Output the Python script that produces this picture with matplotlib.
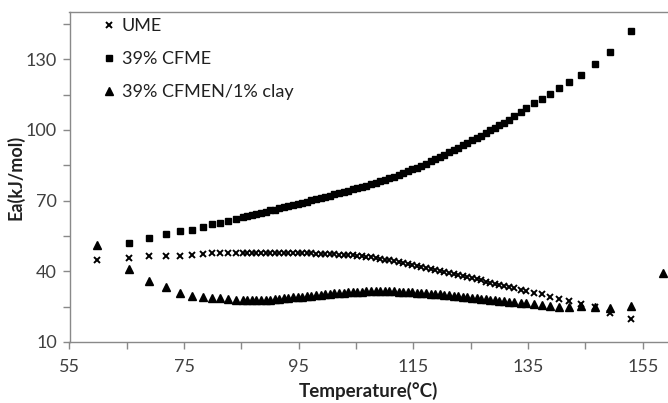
import matplotlib
matplotlib.use("Agg")
import matplotlib.pyplot as plt
import numpy as np

# Temperature (°C) — shared x values for all series
temperature = [
    59.8, 65.3, 68.9, 71.8, 74.3, 76.4, 78.2, 79.8, 81.3, 82.7, 84.0, 85.2,
    86.0, 86.8, 87.6, 88.4, 89.2, 90.0, 90.8, 91.6, 92.4, 93.2,
    94.0, 94.8, 95.6, 96.4, 97.2, 98.0, 98.8, 99.6, 100.4, 101.2,
    102.0, 102.8, 103.6, 104.4, 105.2, 106.0, 106.8, 107.6, 108.4, 109.2,
    110.0, 110.8, 111.6, 112.4, 113.2, 114.0, 114.8, 115.6, 116.4, 117.2,
    118.0, 118.8, 119.6, 120.4, 121.2, 122.0, 122.8, 123.6, 124.4, 125.2,
    126.0, 126.8, 127.6, 128.4, 129.2, 130.0, 130.8, 131.6,
    132.5, 133.7, 134.7, 136.0, 137.4, 138.8, 140.4, 142.2, 144.2, 146.6,
    149.3, 153.0, 158.6,
]

# Ea (kJ/mol), UME
ea_ume = [
    44.8, 45.8, 46.3, 46.5, 46.5, 46.8, 47.3, 47.6, 47.6, 47.6, 47.7, 47.7,
    47.7, 47.7, 47.8, 47.8, 47.8, 47.8, 47.8, 47.8, 47.8, 47.8,
    47.7, 47.7, 47.7, 47.6, 47.6, 47.5, 47.4, 47.4, 47.3, 47.2,
    47.1, 47.0, 46.9, 46.7, 46.6, 46.4, 46.2, 46.0, 45.7, 45.4,
    45.0, 44.6, 44.2, 43.8, 43.4, 43.0, 42.6, 42.2, 41.8, 41.4,
    41.0, 40.6, 40.2, 39.8, 39.4, 38.9, 38.5, 38.0, 37.6, 37.1,
    36.6, 36.1, 35.6, 35.1, 34.6, 34.1, 33.7, 33.3,
    32.8, 32.2, 31.6, 30.9, 30.2, 29.3, 28.4, 27.5, 26.0, 24.8,
    22.4, 19.6, np.nan,
]

# Ea (kJ/mol), 39% CFME
ea_cfme = [
    np.nan, 51.9, 54.0, 55.8, 57.2, 57.7, 58.8, 59.9, 60.6, 61.4, 62.2, 63.0,
    63.5, 64.0, 64.4, 64.9, 65.3, 65.8, 66.2, 66.7, 67.2, 67.6,
    68.1, 68.6, 69.1, 69.6, 70.1, 70.6, 71.1, 71.6, 72.1, 72.6,
    73.1, 73.6, 74.1, 74.7, 75.2, 75.7, 76.3, 76.9, 77.5, 78.1,
    78.8, 79.5, 80.2, 80.9, 81.7, 82.4, 83.2, 84.0, 84.8, 85.7,
    86.6, 87.5, 88.5, 89.4, 90.4, 91.4, 92.4, 93.4, 94.4, 95.5,
    96.6, 97.6, 98.7, 99.8, 100.9, 102.0, 103.1, 104.3,
    105.7, 107.5, 109.2, 111.2, 113.2, 115.1, 117.6, 120.4, 123.4, 127.8,
    133.1, 141.9, np.nan,
]

# Ea (kJ/mol), 39% CFMEN/1% clay
ea_cfmen_clay = [
    51.1, 40.8, 35.9, 33.3, 30.9, 29.6, 29.2, 28.5, 28.5, 28.2, 28.0, 27.9,
    27.8, 27.8, 27.8, 27.8, 27.9, 28.0, 28.1, 28.3, 28.5, 28.7,
    28.9, 29.1, 29.3, 29.5, 29.7, 29.9, 30.1, 30.3, 30.5, 30.7,
    30.8, 31.0, 31.1, 31.2, 31.3, 31.4, 31.5, 31.5, 31.6, 31.6,
    31.6, 31.6, 31.5, 31.4, 31.3, 31.2, 31.1, 30.9, 30.8, 30.6,
    30.5, 30.3, 30.2, 30.0, 29.8, 29.6, 29.4, 29.2, 29.0, 28.8,
    28.6, 28.4, 28.2, 28.0, 27.7, 27.5, 27.3, 27.1,
    26.9, 26.6, 26.4, 26.0, 25.7, 25.3, 25.0, 25.0, 25.3, 25.0,
    24.5, 25.3, 39.4,
]

series_labels = ["UME", "39% CFME", "39% CFMEN/1% clay"]
x_major_ticks = [55, 75, 95, 115, 135, 155]
x_minor_ticks = [65, 85, 105, 125, 145]
y_major_ticks = [10, 40, 70, 100, 130]
y_minor_ticks = [25, 55, 85, 115, 145]

plt.rcParams["font.family"] = ["Lato", "DejaVu Sans"]

W, H = 668, 403
fig = plt.figure(figsize=(W / 100, H / 100), dpi=100)
left_px, bottom_px, top_px = 69.5, 342, 12
ax = fig.add_axes([left_px / W, 1 - bottom_px / H, 1 - left_px / W, (bottom_px - top_px) / H])

ax.plot(temperature, ea_ume, ls="none", marker="x", ms=4.4, mew=1.4,
        color="black", label=series_labels[0])
ax.plot(temperature, ea_cfme, ls="none", marker="s", ms=4.0,
        color="black", label=series_labels[1])
ax.plot(temperature, ea_cfmen_clay, ls="none", marker="^", ms=6.4,
        color="black", label=series_labels[2])

ax.set_xlim(55, 159.4)
ax.set_ylim(10, 150)
ax.set_xticks(x_major_ticks)
ax.set_xticks(x_minor_ticks, minor=True)
ax.set_yticks(y_major_ticks)
ax.set_yticks(y_minor_ticks, minor=True)

spine_color = "#898989"
for s in ["left", "bottom", "top"]:
    ax.spines[s].set_color(spine_color)
    ax.spines[s].set_linewidth(1.0)
ax.spines["right"].set_visible(False)

ax.tick_params(which="both", direction="out", length=5, width=1.0,
               color=spine_color, labelcolor="#404040", labelsize=13)
ax.tick_params(axis="x", pad=7)
ax.tick_params(axis="y", pad=4)

ax.set_xlabel("Temperature(°C)", fontsize=13.5, fontweight="bold",
              color="#202020", labelpad=5)
ax.set_ylabel("Ea(kJ/mol)", fontsize=13, fontweight="bold",
              color="#202020", labelpad=1)

leg = ax.legend(loc="upper left", bbox_to_anchor=(0.056, 0.982), frameon=False,
                handlelength=0.7, handletextpad=0.35, labelspacing=0.95,
                borderaxespad=0, borderpad=0, fontsize=13, numpoints=1)
for t in leg.get_texts():
    t.set_color("#202020")

fig.savefig("out.png", dpi=100)
